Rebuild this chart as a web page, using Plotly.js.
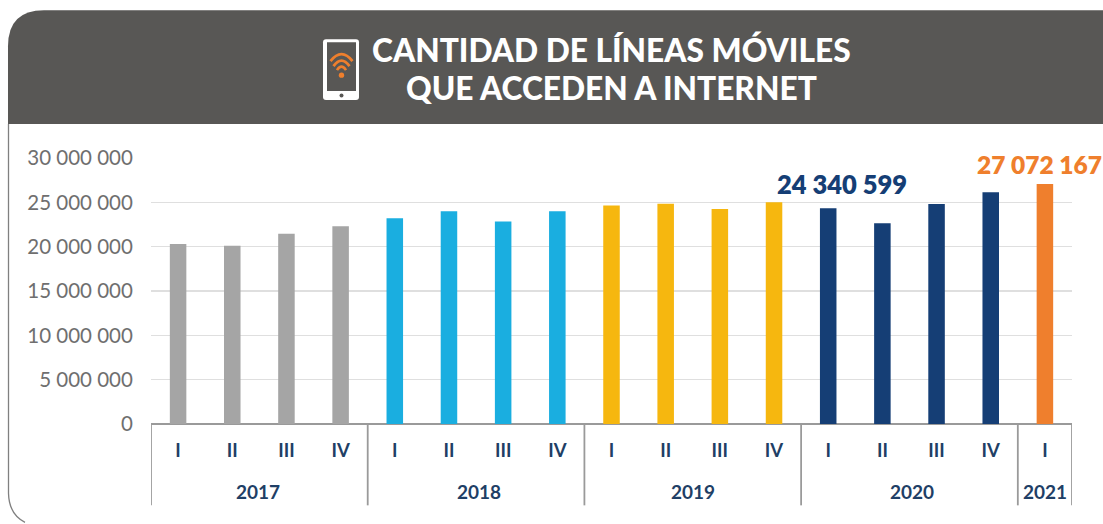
<!DOCTYPE html>
<html><head><meta charset="utf-8">
<script src="https://cdn.plot.ly/plotly-3.0.1.min.js"></script>
<style>html,body{margin:0;padding:0;background:#fff}#c{width:1103px;height:524px}</style>
</head><body><div id="c"></div>
<script>
const periods = ["2017-I","2017-II","2017-III","2017-IV","2018-I","2018-II","2018-III","2018-IV","2019-I","2019-II","2019-III","2019-IV","2020-I","2020-II","2020-III","2020-IV","2021-I"];
const quarterLabels = ["I","II","III","IV","I","II","III","IV","I","II","III","IV","I","II","III","IV","I"];
const lineCounts = [20300000,20100000,21450000,22300000,23200000,24000000,22850000,24000000,24650000,24850000,24250000,25000000,24340599,22650000,24800000,26150000,27072167];
const years = ["2017","2018","2019","2020","2021"];
const yearCenters = [1.47,5.56,9.5,13.55,16];
const dividers = [-0.5,3.5,7.5,11.5,15.5,16.5];
const barColors = ["#a5a5a5","#a5a5a5","#a5a5a5","#a5a5a5","#1aaee0","#1aaee0","#1aaee0","#1aaee0","#f6b70f","#f6b70f","#f6b70f","#f6b70f","#153e75","#153e75","#153e75","#153e75","#ef7f2d"];
const yTicks = [0,5000000,10000000,15000000,20000000,25000000,30000000];
const yTickLabels = ["0","5 000 000","10 000 000","15 000 000","20 000 000","25 000 000","30 000 000"];

const L=151,R=1072,T=158,B=424.5,W=1103,H=524;
const fx=x=>((x-L)/(R-L)).toFixed(5), fy=y=>((B-y)/(B-T)).toFixed(5);
const P=(s)=>s.replace(/(-?[\d.]+),(-?[\d.]+)/g,(m,a,b)=>fx(+a)+","+fy(+b));
const pshape=(path,fill,line,lw,layer)=>({type:"path",xref:"paper",yref:"paper",path:P(path),fillcolor:fill||"rgba(0,0,0,0)",line:{color:line||"rgba(0,0,0,0)",width:lw||0},layer:layer||"below"});
const shapes=[
 pshape("M 8.5,124 L 8.5,494 Q 9,515 25,523",null,"#808080",1.3),
 pshape("M 8,124 L 8,46 Q 8,10 44,10 L 1103,10 L 1103,124 Z","#585755"),
 // phone icon
 pshape("M 326,39 L 356,39 Q 359,39 359,42 L 359,97 Q 359,100 356,100 L 326,100 Q 323,100 323,97 L 323,42 Q 323,39 326,39 Z","#ffffff",null,0,"above"),
 pshape("M 327,42 L 356,42 L 356,91 L 327,91 Z","#585755",null,0,"above"),
 pshape("M 330.5,61 Q 341.5,47 352.5,61",null,"#ef7f2d",2.8,"above"),
 pshape("M 333.5,66 Q 341.5,55 349.5,66",null,"#ef7f2d",2.8,"above"),
 pshape("M 337,70 Q 341.5,63 346,70",null,"#ef7f2d",2.6,"above"),
 pshape("M 338.8,75 Q 338.8,72.3 341.5,72.3 Q 344.2,72.3 344.2,75 Q 344.2,77.7 341.5,77.7 Q 338.8,77.7 338.8,75 Z","#ef7f2d",null,0,"above"),
 pshape("M 339.5,95.5 Q 339.5,93.5 341.5,93.5 Q 343.5,93.5 343.5,95.5 Q 343.5,97.5 341.5,97.5 Q 339.5,97.5 339.5,95.5 Z","#585755",null,0,"above")
];
dividers.forEach(d=>shapes.push({type:"line",xref:"x",yref:"paper",x0:d,x1:d,y0:0,y1:fy(506),line:{color:"#9a9a9a",width:1.8},layer:"above"}));

const anns=[
 {xref:"paper",yref:"paper",x:fx(611),y:fy(50),text:"CANTIDAD DE LÍNEAS MÓVILES",showarrow:false,font:{family:"Lato",size:31.7,color:"#fff",weight:900},xanchor:"center",yanchor:"middle"},
 {xref:"paper",yref:"paper",x:fx(611),y:fy(88),text:"QUE ACCEDEN A INTERNET",showarrow:false,font:{family:"Lato",size:31.7,color:"#fff",weight:900},xanchor:"center",yanchor:"middle"},
 {xref:"x",yref:"y",x:periods[12],y:lineCounts[12],yshift:24.5,xshift:14,yanchor:"middle",text:"24 340 599",showarrow:false,font:{family:"Lato",size:25.5,color:"#153e75",weight:800}},
 {xref:"x",yref:"y",x:periods[16],y:lineCounts[16],yshift:19,xshift:-5,yanchor:"middle",text:"27 072 167",showarrow:false,font:{family:"Lato",size:24.5,color:"#ef7f2d",weight:800}}
];
years.forEach((y,i)=>anns.push({xref:"x",yref:"paper",x:yearCenters[i],y:fy(492.5),text:y,showarrow:false,yanchor:"middle",font:{family:"Lato",size:19,color:"#1f3f66",weight:700}}));

Plotly.newPlot("c",[{type:"bar",x:periods,y:lineCounts,width:0.305,marker:{color:barColors,line:{width:0}},hoverinfo:"x+y"}],{
 width:W,height:H,showlegend:false,
 margin:{l:L,r:W-R,t:T,b:H-B,pad:0},
 paper_bgcolor:"#fff",plot_bgcolor:"#fff",
 xaxis:{type:"category",categoryorder:"array",categoryarray:periods,range:[-0.5,16.5],tickmode:"array",tickvals:periods,ticktext:quarterLabels,
  tickfont:{family:"Lato",size:18.5,color:"#1f3f66",weight:700},ticks:"outside",ticklen:10,tickcolor:"rgba(0,0,0,0)",showgrid:false,showline:false,zeroline:false,tickangle:0},
 yaxis:{range:[0,30000000],tickmode:"array",tickvals:yTicks,ticktext:yTickLabels,tickfont:{family:"Lato",size:20.5,color:"#6f6f6f"},
  gridcolor:"#dfdfdf",gridwidth:1.2,zeroline:true,zerolinecolor:"#9a9a9a",zerolinewidth:2,ticks:"outside",ticklen:13,tickcolor:"rgba(0,0,0,0)",showline:false},
 shapes:shapes,annotations:anns,bargap:0.7
},{displayModeBar:false,staticPlot:true});
</script></body></html>
